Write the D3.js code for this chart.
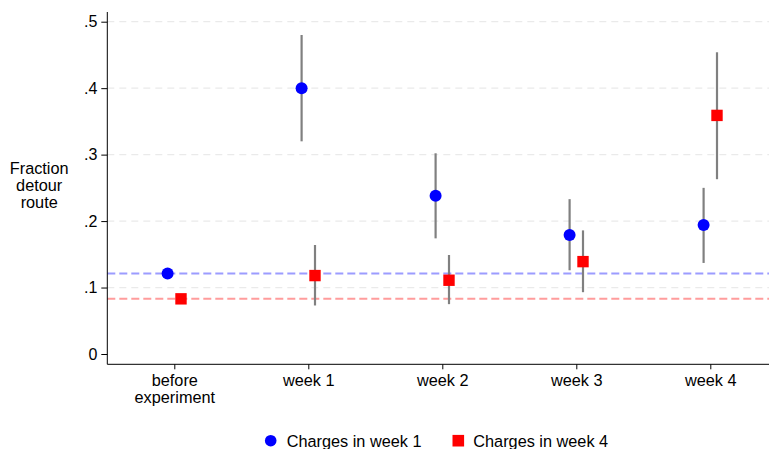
<!DOCTYPE html>
<html><head><meta charset="utf-8">
<script src="https://cdn.jsdelivr.net/npm/d3@7"></script>
<style>body{margin:0;background:#fff}svg{display:block;font-family:"Liberation Sans",Arial,sans-serif}</style>
</head><body><svg id="c" width="769" height="449"></svg>
<script>
const categories = ["before|experiment","week 1","week 2","week 3","week 4"];
const week1Est = [0.121, 0.400, 0.238, 0.179, 0.194];
const week1Lo  = [null, 0.320, 0.174, 0.126, 0.137];
const week1Hi  = [null, 0.480, 0.302, 0.233, 0.250];
const week4Est = [0.083, 0.118, 0.111, 0.139, 0.359];
const week4Lo  = [null, 0.073, 0.075, 0.093, 0.263];
const week4Hi  = [null, 0.164, 0.149, 0.186, 0.454];
const baselineWeek1 = 0.121;
const baselineWeek4 = 0.083;
const yTicks = [0, 0.1, 0.2, 0.3, 0.4, 0.5];
const legendLabels = ["Charges in week 1", "Charges in week 4"];

(function () {
const svg = d3.select("#c");
const x = d3.scaleLinear().domain([0.5, 5.5]).range([107.3, 777.3]);
const y = d3.scaleLinear().domain([0, 0.5]).range([354, 21.7]);
const pLeft = 107.3, pRight = 769, pBottom = 364.3, pTop = 12;
const txt = "#000";

// gridlines
svg.append("g").selectAll("line").data(yTicks.filter(d => d > 0)).join("line")
  .attr("x1", pLeft).attr("x2", pRight).attr("y1", d => y(d)).attr("y2", d => y(d))
  .attr("stroke", "#eaeaea").attr("stroke-width", 1.2).attr("stroke-dasharray", "7,5");

// baselines
svg.append("line").attr("x1", pLeft).attr("x2", pRight)
  .attr("y1", y(baselineWeek1)).attr("y2", y(baselineWeek1))
  .attr("stroke", "#9c9cff").attr("stroke-width", 2).attr("stroke-dasharray", "8,4");
svg.append("line").attr("x1", pLeft).attr("x2", pRight)
  .attr("y1", y(baselineWeek4)).attr("y2", y(baselineWeek4))
  .attr("stroke", "#ff9c9c").attr("stroke-width", 2).attr("stroke-dasharray", "8,4");

// axes
const yAxis = svg.append("g").attr("transform", `translate(${pLeft},0)`)
  .call(d3.axisLeft(y).tickValues(yTicks).tickSize(6).tickPadding(4)
    .tickFormat(d => d === 0 ? "0" : d3.format(".1f")(d).replace(/^0/, "")));
yAxis.select(".domain").attr("d", `M0,${pBottom}V${pTop}`).attr("stroke", "#000");
yAxis.selectAll("text").attr("font-size", 16).attr("fill", txt).attr("font-family", "Liberation Sans, Arial");

const xAxis = svg.append("g").attr("transform", `translate(0,${pBottom})`)
  .call(d3.axisBottom(x).tickValues([1,2,3,4,5]).tickSize(5).tickFormat(""));
xAxis.select(".domain").attr("d", `M${pLeft},0H${pRight}`).attr("stroke", "#000");
xAxis.selectAll(".tick").each(function(d, i) {
  const parts = categories[i].split("|");
  const t = d3.select(this).append("text").attr("fill", txt).attr("font-size", 16.3)
    .attr("text-anchor", "middle").attr("font-family", "Liberation Sans, Arial");
  parts.forEach((p, k) => t.append("tspan").attr("x", 0).attr("y", 22 + k * 17).text(p));
});

// y title
const yt = svg.append("text").attr("text-anchor", "middle").attr("font-size", 16.3).attr("fill", txt);
["Fraction", "detour", "route"].forEach((p, k) =>
  yt.append("tspan").attr("x", 39.2).attr("y", 174 + k * 17).text(p));

const off = 0.05;
// CI lines
const ci = svg.append("g").attr("stroke", "#808080").attr("stroke-width", 2.2);
categories.forEach((c, i) => {
  if (week1Lo[i] !== null)
    ci.append("line").attr("x1", x(i + 1 - off)).attr("x2", x(i + 1 - off))
      .attr("y1", y(week1Lo[i])).attr("y2", y(week1Hi[i]));
  if (week4Lo[i] !== null)
    ci.append("line").attr("x1", x(i + 1 + off)).attr("x2", x(i + 1 + off))
      .attr("y1", y(week4Lo[i])).attr("y2", y(week4Hi[i]));
});

// points
svg.append("g").selectAll("circle").data(week1Est).join("circle")
  .attr("cx", (d, i) => x(i + 1 - off)).attr("cy", d => y(d)).attr("r", 6).attr("fill", "#0000ff");
const s = 11.4;
svg.append("g").selectAll("rect").data(week4Est).join("rect")
  .attr("x", (d, i) => x(i + 1 + off) - s / 2).attr("y", d => y(d) - s / 2)
  .attr("width", s).attr("height", s).attr("fill", "#ff0000");

// legend
const lg = svg.append("g");
lg.append("circle").attr("cx", 270.7).attr("cy", 440.7).attr("r", 5.8).attr("fill", "#0000ff");
lg.append("text").attr("x", 286.7).attr("y", 446.5).attr("font-size", 16.3).attr("fill", txt).text(legendLabels[0]);
lg.append("rect").attr("x", 458.3 - 5.8).attr("y", 440.7 - 5.8).attr("width", 11.6).attr("height", 11.6).attr("fill", "#ff0000");
lg.append("text").attr("x", 473.3).attr("y", 446.5).attr("font-size", 16.3).attr("fill", txt).text(legendLabels[1]);
})();
</script></body></html>
